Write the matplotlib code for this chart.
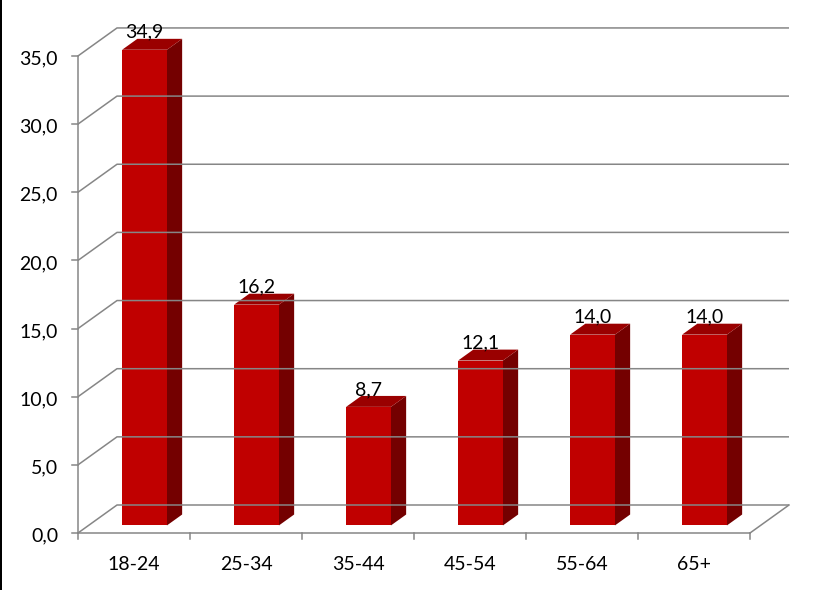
import matplotlib
matplotlib.use("Agg")
import matplotlib.pyplot as plt
from matplotlib.patches import Polygon, Rectangle

# data
categories = ["18-24", "25-34", "35-44", "45-54", "55-64", "65+"]
values = [34.9, 16.2, 8.7, 12.1, 14.0, 14.0]
yticks = [0, 5, 10, 15, 20, 25, 30, 35]

plt.rcParams['font.family'] = ['Lato', 'DejaVu Sans']

W, H = 822, 590
fig = plt.figure(figsize=(W / 100, H / 100), dpi=100)
ax = fig.add_axes([0, 0, 1, 1])
ax.axis("off")

# pixel layout of the front plane (x in categories, y in value units)
px_cat = 112.0
px_val = 13.63
x0_px = 78.0
y0_px = 57.0  # from bottom
ax.set_xlim(-x0_px / px_cat, (W - x0_px) / px_cat)
ax.set_ylim(-y0_px / px_val, (H - y0_px) / px_val)

# depth offset of the back wall
DX = 39.0 / px_cat
DV = 28.0 / px_val
n = len(categories)
grid_c = "#868686"
lw = 1.1
fs = 14

def dep(x, v, d):
    return (x + DX * d, v + DV * d)

# gridlines on side wall + back wall
for t in yticks:
    pts = [(0, t), dep(0, t, 1), dep(n, t, 1)]
    ax.plot(*zip(*pts), color=grid_c, lw=lw, solid_capstyle="butt")
    ax.plot([-6 / px_cat, 0], [t, t], color=grid_c, lw=lw)
    ax.text(-20 / px_cat, t - 3 / px_val, f"{t:.1f}".replace(".", ","),
            ha="right", va="center", fontsize=fs)

# floor and axes
ax.plot([0, n], [0, 0], color=grid_c, lw=lw)
ax.plot(*zip((n, 0), dep(n, 0, 1)), color=grid_c, lw=lw)
ax.plot([0, 0], [0, yticks[-1]], color=grid_c, lw=lw)
for i in range(n + 1):
    ax.plot([i, i], [0, -6 / px_val], color=grid_c, lw=lw)
for i, c in enumerate(categories):
    ax.text(i + 0.5, -31 / px_val, c, ha="center", va="center", fontsize=fs)

# bars
d1, d2 = 0.27, 0.66
hw = 0.2
for i, v in enumerate(values):
    cx = i + 0.5
    l, r = cx - hw, cx + hw
    front = [dep(l, 0, d1), dep(r, 0, d1), dep(r, v, d1), dep(l, v, d1)]
    side = [dep(r, 0, d1), dep(r, 0, d2), dep(r, v, d2), dep(r, v, d1)]
    top = [dep(l, v, d1), dep(r, v, d1), dep(r, v, d2), dep(l, v, d2)]
    ax.add_patch(Polygon(side, closed=True, fc="#740000", ec="none"))
    ax.add_patch(Polygon(top, closed=True, fc="#9A0000", ec="none"))
    ax.add_patch(Polygon(front, closed=True, fc="#C00000", ec="none"))
    lx, ly = dep(cx, v, d1)
    ax.text(lx, v + DV * d2 + 1 / px_val, f"{v:.1f}".replace(".", ","),
            ha="center", va="baseline", fontsize=fs)

# black left border
fig.patches.append(Rectangle((0, 0), 2 / W, 1, transform=fig.transFigure,
                             fc="black", ec="none"))

fig.savefig("out.png", dpi=100)
